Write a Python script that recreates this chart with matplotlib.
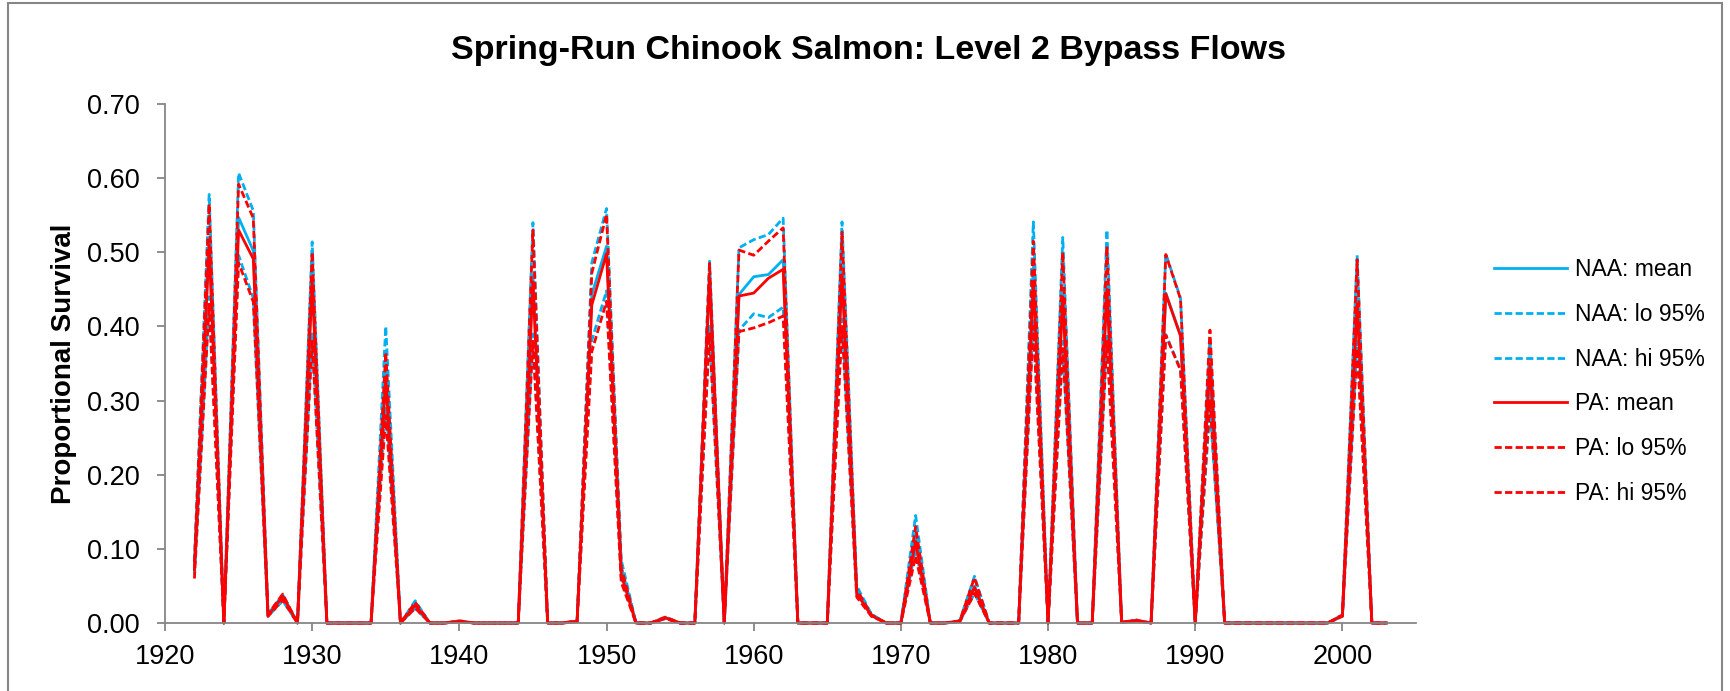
import numpy as np
import matplotlib
matplotlib.use('Agg')
import matplotlib.pyplot as plt
from matplotlib.patches import Rectangle

plt.rcParams['font.family'] = ['Liberation Sans', 'DejaVu Sans']

# water years 1922-2003
years = list(range(1922, 2004))

naa_mean = [0.075, 0.52, 0.0, 0.547, 0.502, 0.010, 0.035, 0.0, 0.47, 0.0,
            0.0, 0.0, 0.0, 0.35, 0.0, 0.025, 0.0, 0.0, 0.002, 0.0,
            0.0, 0.0, 0.0, 0.47, 0.0, 0.0, 0.002, 0.443, 0.508, 0.075,
            0.0, 0.0, 0.007, 0.0, 0.0, 0.47, 0.0, 0.443, 0.467, 0.470,
            0.490, 0.0, 0.0, 0.0, 0.48, 0.045, 0.011, 0.0, 0.0, 0.12,
            0.0, 0.0, 0.002, 0.05, 0.0, 0.0, 0.0, 0.48, 0.0, 0.45,
            0.0, 0.0, 0.46, 0.001, 0.003, 0.0, 0.445, 0.388, 0.0, 0.34,
            0.0, 0.0, 0.0, 0.0, 0.0, 0.0, 0.0, 0.0, 0.01, 0.44,
            0.0, 0.0]
naa_lo = [0.065, 0.44, 0.0, 0.496, 0.438, 0.009, 0.030, 0.0, 0.39, 0.0,
          0.0, 0.0, 0.0, 0.30, 0.0, 0.020, 0.0, 0.0, 0.002, 0.0,
          0.0, 0.0, 0.0, 0.39, 0.0, 0.0, 0.002, 0.381, 0.448, 0.060,
          0.0, 0.0, 0.006, 0.0, 0.0, 0.40, 0.0, 0.395, 0.417, 0.412,
          0.426, 0.0, 0.0, 0.0, 0.41, 0.040, 0.010, 0.0, 0.0, 0.10,
          0.0, 0.0, 0.002, 0.04, 0.0, 0.0, 0.0, 0.41, 0.0, 0.38,
          0.0, 0.0, 0.39, 0.001, 0.003, 0.0, 0.389, 0.342, 0.0, 0.29,
          0.0, 0.0, 0.0, 0.0, 0.0, 0.0, 0.0, 0.0, 0.009, 0.38,
          0.0, 0.0]
naa_hi = [0.085, 0.578, 0.0, 0.607, 0.556, 0.012, 0.038, 0.0, 0.514, 0.0,
          0.0, 0.0, 0.0, 0.40, 0.0, 0.030, 0.0, 0.0, 0.003, 0.0,
          0.0, 0.0, 0.0, 0.54, 0.0, 0.0, 0.003, 0.486, 0.559, 0.085,
          0.0, 0.0, 0.008, 0.0, 0.0, 0.488, 0.0, 0.506, 0.517, 0.524,
          0.546, 0.0, 0.0, 0.0, 0.541, 0.050, 0.012, 0.0, 0.0, 0.145,
          0.0, 0.0, 0.003, 0.063, 0.0, 0.0, 0.0, 0.541, 0.0, 0.52,
          0.0, 0.0, 0.53, 0.001, 0.004, 0.0, 0.498, 0.438, 0.0, 0.38,
          0.0, 0.0, 0.0, 0.0, 0.0, 0.0, 0.0, 0.0, 0.011, 0.496,
          0.0, 0.0]

pa_mean = [0.072, 0.51, 0.0, 0.530, 0.491, 0.010, 0.036, 0.0, 0.46, 0.0,
           0.0, 0.0, 0.0, 0.33, 0.0, 0.024, 0.0, 0.0, 0.002, 0.0,
           0.0, 0.0, 0.0, 0.46, 0.0, 0.0, 0.002, 0.429, 0.498, 0.065,
           0.0, 0.0, 0.007, 0.0, 0.0, 0.465, 0.0, 0.441, 0.445, 0.465,
           0.477, 0.0, 0.0, 0.0, 0.47, 0.040, 0.010, 0.0, 0.0, 0.11,
           0.0, 0.0, 0.002, 0.048, 0.0, 0.0, 0.0, 0.46, 0.0, 0.44,
           0.0, 0.0, 0.45, 0.001, 0.003, 0.0, 0.444, 0.387, 0.0, 0.35,
           0.0, 0.0, 0.0, 0.0, 0.0, 0.0, 0.0, 0.0, 0.01, 0.43,
           0.0, 0.0]
pa_lo = [0.060, 0.43, 0.0, 0.486, 0.433, 0.009, 0.031, 0.0, 0.38, 0.0,
         0.0, 0.0, 0.0, 0.28, 0.0, 0.020, 0.0, 0.0, 0.002, 0.0,
         0.0, 0.0, 0.0, 0.38, 0.0, 0.0, 0.002, 0.366, 0.434, 0.055,
         0.0, 0.0, 0.006, 0.0, 0.0, 0.39, 0.0, 0.393, 0.398, 0.405,
         0.414, 0.0, 0.0, 0.0, 0.40, 0.035, 0.009, 0.0, 0.0, 0.09,
         0.0, 0.0, 0.002, 0.04, 0.0, 0.0, 0.0, 0.40, 0.0, 0.37,
         0.0, 0.0, 0.38, 0.001, 0.003, 0.0, 0.388, 0.341, 0.0, 0.30,
         0.0, 0.0, 0.0, 0.0, 0.0, 0.0, 0.0, 0.0, 0.009, 0.37,
         0.0, 0.0]
pa_hi = [0.082, 0.565, 0.0, 0.592, 0.546, 0.012, 0.039, 0.0, 0.50, 0.0,
         0.0, 0.0, 0.0, 0.365, 0.0, 0.028, 0.0, 0.0, 0.003, 0.0,
         0.0, 0.0, 0.0, 0.53, 0.0, 0.0, 0.003, 0.472, 0.551, 0.075,
         0.0, 0.0, 0.008, 0.0, 0.0, 0.485, 0.0, 0.503, 0.496, 0.515,
         0.533, 0.0, 0.0, 0.0, 0.527, 0.045, 0.011, 0.0, 0.0, 0.13,
         0.0, 0.0, 0.003, 0.061, 0.0, 0.0, 0.0, 0.515, 0.0, 0.50,
         0.0, 0.0, 0.508, 0.001, 0.004, 0.0, 0.497, 0.437, 0.0, 0.395,
         0.0, 0.0, 0.0, 0.0, 0.0, 0.0, 0.0, 0.0, 0.011, 0.49,
         0.0, 0.0]

blue = '#00B0F0'
red = '#FF0000'
grey = '#868686'
dash = (2.6, 1.2)

fig = plt.figure(figsize=(17.3, 6.91), dpi=100)
ax = fig.add_axes([165/1730, 1-623/691, (1416-165)/1730, (623-104)/691])

ax.plot(years, naa_mean, color=blue, lw=2, label='NAA: mean', clip_on=False)
ax.plot(years, naa_lo, color=blue, lw=2, dashes=dash, label='NAA: lo 95%', clip_on=False)
ax.plot(years, naa_hi, color=blue, lw=2, dashes=dash, label='NAA: hi 95%', clip_on=False)
ax.plot(years, pa_mean, color=red, lw=2, label='PA: mean', clip_on=False)
ax.plot(years, pa_lo, color=red, lw=2, dashes=dash, label='PA: lo 95%', clip_on=False)
ax.plot(years, pa_hi, color=red, lw=2, dashes=dash, label='PA: hi 95%', clip_on=False)

ax.set_xlim(1920, 2005)
ax.set_ylim(0, 0.70)
ax.set_xticks(np.arange(1920, 2001, 10))
ax.set_yticks(np.arange(0, 0.71, 0.1))
ax.set_yticklabels(['%.2f' % v for v in np.arange(0, 0.71, 0.1)])

for s in ['top', 'right']:
    ax.spines[s].set_visible(False)
for s in ['left', 'bottom']:
    ax.spines[s].set_color(grey)
    ax.spines[s].set_linewidth(1.3)
ax.tick_params(axis='both', direction='out', length=6, width=1.3, color=grey,
               labelsize=19.5, labelcolor='black')
ax.tick_params(axis='y', pad=12)
ax.tick_params(axis='x', pad=9)

ax.set_ylabel('Proportional Survival', fontsize=20, fontweight='bold')
ax.yaxis.set_label_coords(-0.0705, 0.5)

fig.text(0.502, 1-50/691, 'Spring-Run Chinook Salmon: Level 2 Bypass Flows',
         ha='center', va='center', fontsize=24.5, fontweight='bold')

fig.legend(loc='center left', bbox_to_anchor=(1494/1730, 1-381.5/691),
           frameon=False, fontsize=16.5, handlelength=3.2, handletextpad=0.35,
           labelspacing=0.95, borderpad=0, borderaxespad=0)

# chart area border
fig.patches.append(Rectangle((8/1730, -0.05), 1-16/1730, 1.05-3/691,
                             transform=fig.transFigure, fill=False,
                             edgecolor=grey, lw=1.5))

fig.savefig('out.png', dpi=100)
